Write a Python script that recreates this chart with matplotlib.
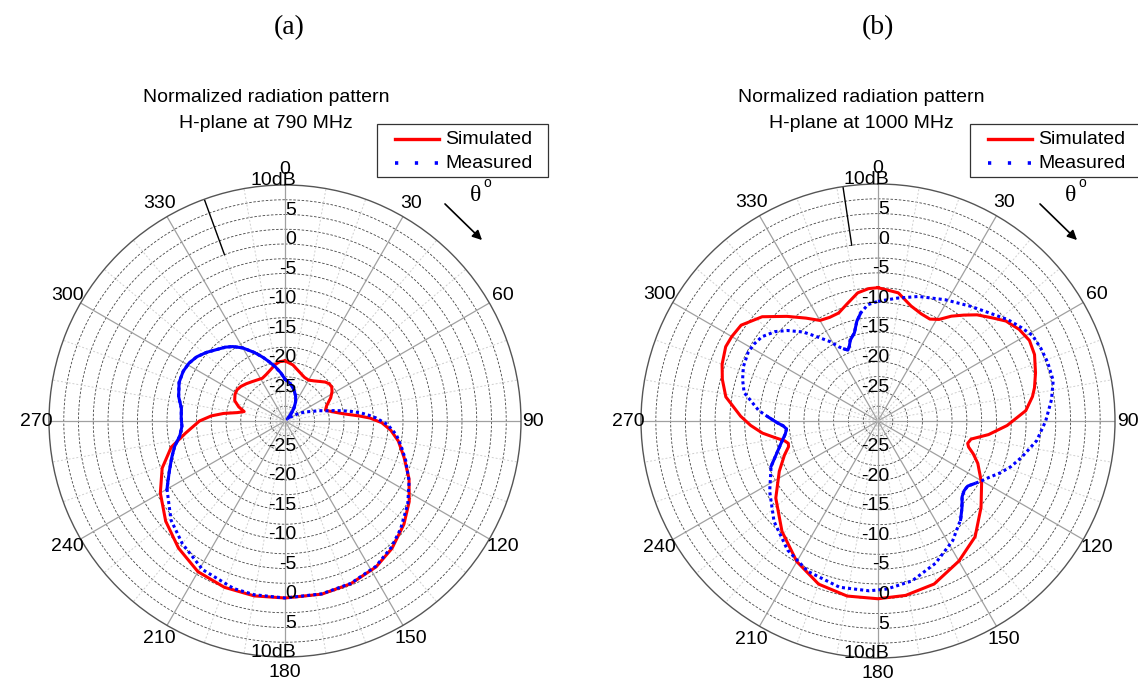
import numpy as np
import matplotlib
matplotlib.use("Agg")
import matplotlib.pyplot as plt
from matplotlib.patches import Rectangle, FancyArrowPatch
from matplotlib.lines import Line2D

# (a) H-plane pattern at 790 MHz, angle in degrees, level in dB
sim_a_deg = [0, 8, 16, 24, 30, 36, 42, 46, 50, 54, 58, 63, 70, 75, 79, 83, 86, 88,
             91, 95, 100, 107, 115, 123, 131, 140, 148, 158, 168, 180, 190, 200,
             210, 220, 230, 240, 249, 257, 263, 270, 274, 277, 280, 283, 287, 292,
             298, 303, 308, 314, 320, 326, 332, 338, 344, 350, 355, 360]
sim_a_db = [-19.8, -20.4, -21.3, -21.9, -22.0, -21.6, -21.0, -20.5, -20.2, -20.2,
            -20.6, -21.3, -22.5, -22.9, -21.8, -20.0, -17.5, -15.6, -13.6, -12.0,
            -10.5, -8.9, -6.8, -4.9, -3.3, -1.8, -0.85, -0.25, 0.0, 0.0, 0.1, 0.0,
            -0.5, -1.9, -3.6, -5.6, -7.7, -10.2, -13.0, -15.5, -17.5, -19.5,
            -21.8, -22.9, -21.8, -20.8, -20.4, -20.3, -20.5, -20.9, -21.3, -21.6,
            -21.8, -21.5, -21.0, -20.3, -19.9, -19.8]

meas_a_deg = [0, 8, 16, 23, 29, 34, 38, 44, 50, 55, 61, 67, 71, 73, 76, 78, 80, 82,
              84, 86, 88, 92, 97, 102, 108, 116, 124, 133, 140, 148, 158, 168, 180,
              190, 197, 209, 220, 229, 240, 246, 252, 257, 262, 267, 272, 277, 283,
              290, 296, 301, 306, 311, 316, 321, 325, 330, 336, 341, 345, 350, 355,
              360]
meas_a_db = [-22.9, -23.6, -24.5, -25.4, -26.3, -27.2, -28.0, -29.0, -29.5, -28.8,
             -27.3, -26.0, -25.0, -24.0, -22.9, -21.5, -20.0, -18.5, -17.0, -15.8,
             -14.6, -12.6, -11.0, -9.9, -8.5, -6.6, -4.9, -3.2, -2.0, -0.95, -0.3,
             -0.05, 0.0, -0.1, -0.3, -1.2, -2.9, -4.4, -6.9, -8.5, -9.8, -10.8,
             -12.0, -12.5, -12.4, -12.3, -11.5, -10.9, -10.8, -11.0, -11.5, -12.3,
             -13.2, -13.9, -14.6, -15.7, -17.3, -18.6, -19.6, -20.7, -21.8, -22.9]

# (b) H-plane pattern at 1000 MHz
sim_b_deg = [0, 9, 16, 22, 27, 31, 35, 39, 43, 48, 52, 57, 62, 67, 73, 78, 81, 86,
             92, 97, 101, 104, 106, 109, 113, 121, 130, 140, 150, 161, 171, 180,
             190, 200, 210, 221, 233, 243, 250, 254, 256, 258, 261, 264, 268, 272,
             279, 285, 290, 296, 300, 305, 312, 319, 325, 330, 335, 340, 345, 351,
             356, 360]
sim_b_db = [-7.5, -8.1, -9.8, -10.5, -10.7, -10.0, -8.4, -7.0, -5.5, -4.0, -2.6,
            -1.6, -1.05, -1.3, -2.2, -3.0, -3.6, -5.0, -8.2, -11.2, -14.0, -14.4,
            -14.1, -13.0, -11.7, -9.6, -7.3, -4.5, -2.7, -0.9, -0.2, 0.0, 0.0,
            -0.7, -2.6, -5.3, -8.4, -11.3, -13.2, -14.3, -14.4, -13.9, -12.3,
            -10.4, -8.5, -6.8, -4.0, -2.8, -2.0, -1.4, -1.5, -1.8, -3.7, -6.6,
            -8.8, -10.4, -10.7, -10.6, -9.6, -8.1, -7.6, -7.5]

meas_b_deg = [0, 9, 18, 29, 39, 45, 52, 57, 61, 66, 71, 77, 83, 90, 97, 104, 109,
              113, 117, 120, 123, 126, 129, 132, 136, 140, 148, 158, 168, 177, 183,
              193, 205, 215, 226, 237, 247, 257, 262, 265, 267, 269, 272, 275, 282,
              287, 292, 298, 302, 306, 311, 315, 320, 324, 329, 332, 335, 337, 339,
              341, 345, 348, 351, 355, 360]
meas_b_db = [-9.8, -9.0, -7.9, -6.6, -5.1, -4.0, -2.2, -1.1, -0.2, 0.1, 0.3, 0.35,
             -0.5, -1.7, -3.0, -4.95, -6.3, -7.6, -9.0, -9.8, -10.6, -11.3, -11.3,
             -10.9, -9.6, -8.3, -6.2, -4.1, -2.4, -1.6, -1.3, -1.2, -2.0, -3.4,
             -5.6, -8.2, -10.4, -13.2, -14.2, -14.5, -14.0, -13.0, -11.5, -9.8,
             -6.9, -6.1, -5.5, -5.2, -5.4, -5.8, -7.0, -8.4, -10.4, -12.4, -14.4,
             -15.8, -16.6, -17.0, -16.5, -15.6, -14.6, -12.8, -11.5, -10.3, -9.8]

R_MIN, R_MAX = -30, 10
W, H = 1138, 684

plt.rcParams['font.family'] = ['Liberation Sans', 'DejaVu Sans']
plt.rcParams['font.size'] = 14

fig = plt.figure(figsize=(W / 100, H / 100), dpi=100)
fig.patch.set_facecolor('white')


def fx(x):
    return x / W


def fy(y):
    return 1 - y / H


def polar_frame(cx, cy, rad, stray_deg):
    ax = fig.add_axes([fx(cx - rad), fy(cy + rad), 2 * rad / W, 2 * rad / H],
                      projection='polar')
    ax.set_theta_zero_location('N')
    ax.set_theta_direction(-1)
    ax.set_ylim(R_MIN, R_MAX)
    ax.set_xticks([])
    ax.set_yticks([])
    ax.grid(False)
    ax.spines['polar'].set_color('#555555')
    ax.spines['polar'].set_linewidth(1.0)

    full = np.linspace(0, 2 * np.pi, 721)
    for r in np.arange(-27.5, 10, 2.5):
        ax.plot(full, np.full_like(full, r), color='#444444', lw=0.6,
                ls=(0, (3, 2)), zorder=1)
    for d in range(0, 360, 10):
        t = np.radians(d)
        if d % 30 == 0:
            ax.plot([t, t], [R_MIN, R_MAX], color='#a0a0a0', lw=0.9, zorder=1)
        else:
            ax.plot([t, t], [R_MIN, R_MAX], color='#cfcfcf', lw=0.7,
                    ls=(0, (2, 2)), zorder=1)
    ts = np.radians(stray_deg)
    ax.plot([ts, ts], [0, R_MAX], color='black', lw=1.0, zorder=2)

    # angle labels around the rim
    for d in range(0, 360, 30):
        r_lab = 12.1 if d in (90, 270) else 12.6
        ax.text(np.radians(d), r_lab, str(d), ha='center', va='center', clip_on=False)

    # dB scale along the vertical diameter
    for v in [10, 5, 0, -5, -10, -15, -20, -25]:
        lbl = '10dB' if v == 10 else str(v)
        for t in (0, np.pi):
            ax.annotate(lbl, xy=(t, v), xytext=(8, 3), textcoords='offset points',
                        ha='right', va='center', zorder=5)
    return ax


def draw_curves(ax, s_deg, s_db, m_deg, m_db, solid_ranges):
    ax.plot(np.radians(s_deg), s_db, color='red', lw=2.2, zorder=3)
    m_deg = np.asarray(m_deg, float)
    m_db = np.asarray(m_db, float)
    ax.plot(np.radians(m_deg), m_db, color='blue', lw=2.2, ls=(0, (1, 1)), zorder=4)
    for lo, hi in solid_ranges:
        sel = (m_deg >= lo) & (m_deg <= hi)
        ax.plot(np.radians(m_deg[sel]), m_db[sel], color='blue', lw=2.2, zorder=4)


def header(cx_title, title2, box_left, arrow_x):
    fig.text(fx(cx_title), fy(98), 'Normalized radiation pattern',
             ha='center', va='center')
    fig.text(fx(cx_title), fy(123), title2, ha='center', va='center')

    # legend box drawn by hand
    fig.add_artist(Rectangle((fx(box_left), fy(177)), 171 / W, 53 / H,
                             transform=fig.transFigure, facecolor='white',
                             edgecolor='#333333', lw=0.9, zorder=6))
    x0, x1 = box_left + 18, box_left + 62
    fig.add_artist(Line2D([fx(x0), fx(x1)], [fy(139), fy(139)], color='red',
                          lw=2.4, transform=fig.transFigure, zorder=7))
    fig.add_artist(Line2D([fx(x0), fx(x1)], [fy(163), fy(163)], color='blue',
                          lw=2.6, ls=(0, (0.9, 4.6)), transform=fig.transFigure,
                          zorder=7))
    fig.text(fx(box_left + 68), fy(139), 'Simulated', ha='left', va='center',
             zorder=7)
    fig.text(fx(box_left + 68), fy(163), 'Measured', ha='left', va='center',
             zorder=7)

    fig.text(fx(arrow_x + 33), fy(196), 'θ', family='Liberation Serif',
             fontsize=17, ha='center', va='center')
    fig.text(fx(arrow_x + 44), fy(183), 'o', fontsize=10, ha='center', va='center')
    fig.add_artist(FancyArrowPatch((fx(arrow_x), fy(202)), (fx(arrow_x + 41), fy(242)),
                                   transform=fig.transFigure, arrowstyle='-|>',
                                   mutation_scale=14, color='black', lw=1.2))


ax_a = polar_frame(285, 421, 236, 340)
draw_curves(ax_a, sim_a_deg, sim_a_db, meas_a_deg, meas_a_db, [(240, 360), (0, 48)])
header(266, 'H-plane at 790 MHz', 377, 443)

ax_b = polar_frame(878, 421, 237, 351.5)
draw_curves(ax_b, sim_b_deg, sim_b_db, meas_b_deg, meas_b_db,
            [(122, 142), (240, 272), (334, 353)])
header(861, 'H-plane at 1000 MHz', 970, 1038)

fig.text(fx(289), fy(28), '(a)', family='Liberation Serif', fontsize=20,
         ha='center', va='center')
fig.text(fx(878), fy(28), '(b)', family='Liberation Serif', fontsize=20,
         ha='center', va='center')

fig.savefig('out.png', dpi=100)
